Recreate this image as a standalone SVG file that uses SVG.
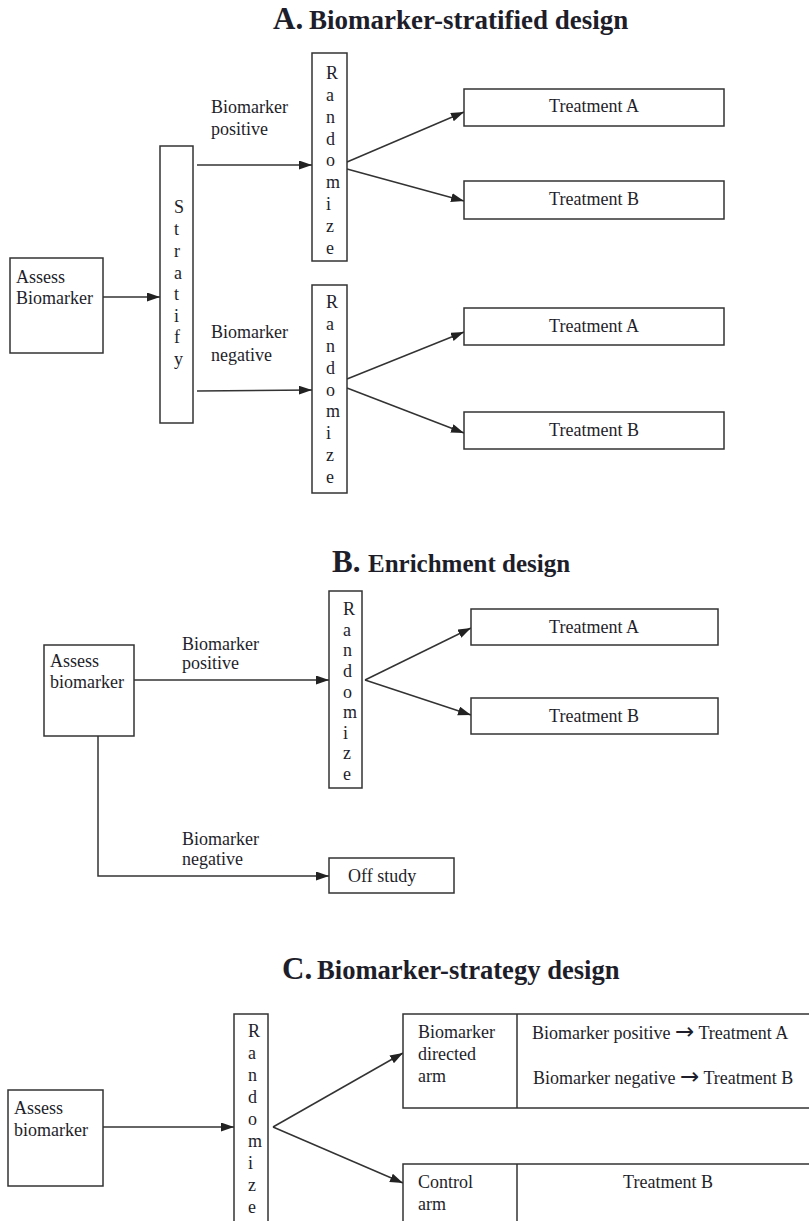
<svg xmlns="http://www.w3.org/2000/svg" width="809" height="1221" viewBox="0 0 809 1221">
<style>
text{font-family:"Liberation Serif","Times New Roman",serif;fill:#1e1e2a;font-size:18px}
.t{font-weight:bold;font-size:27px}
.L{font-weight:bold;font-size:31px}
.box{fill:#fff;stroke:#333;stroke-width:1.5}
.c{text-anchor:middle}
.arw{font-family:"DejaVu Sans",sans-serif;font-size:23px}
#connectors path,#connectors line{fill:none;stroke:#333;stroke-width:1.5}
.ar{marker-end:url(#ah)}
</style>
<defs>
<marker id="ah" markerUnits="userSpaceOnUse" markerWidth="14" markerHeight="10" refX="13" refY="4.5" orient="auto">
<path d="M0,0 L13,4.5 L0,9 z" fill="#222"/>
</marker>
</defs>
<rect width="809" height="1221" fill="#fff"/>

<!-- Titles -->
<g id="titleA"><text x="273" y="29" class="L">A.</text><text x="309" y="29" class="t">Biomarker-stratified design</text></g>
<g id="titleB"><text x="332" y="572" class="L">B.</text><text x="368" y="572" class="t" style="font-size:25px">Enrichment design</text></g>
<g id="titleC"><text x="282" y="979" class="L">C.</text><text x="317" y="979" class="t" style="font-size:26.6px">Biomarker-strategy design</text></g>

<!-- Connectors -->
<g id="connectors">
<line class="ar" x1="103" y1="297" x2="160" y2="297"/>
<line class="ar" x1="197" y1="165" x2="312" y2="165"/>
<line class="ar" x1="197" y1="391" x2="312" y2="390"/>
<line class="ar" x1="347" y1="162" x2="464" y2="112"/>
<line class="ar" x1="347" y1="169" x2="464" y2="201"/>
<line class="ar" x1="347" y1="379" x2="464" y2="332"/>
<line class="ar" x1="347" y1="388" x2="464" y2="433"/>

<line class="ar" x1="134" y1="680" x2="329" y2="680"/>
<path class="ar" d="M98,736 L98,876 L329,876"/>
<line class="ar" x1="365" y1="680" x2="471" y2="628"/>
<line class="ar" x1="365" y1="680" x2="471" y2="715"/>

<line class="ar" x1="103" y1="1127" x2="234" y2="1127"/>
<line class="ar" x1="273" y1="1127" x2="403" y2="1053"/>
<line class="ar" x1="273" y1="1127" x2="403" y2="1183"/>
</g>

<!-- Edge labels -->
<g id="labelsA">
<text x="211" y="113">Biomarker</text><text x="211" y="135">positive</text>
<text x="211" y="338">Biomarker</text><text x="211" y="361">negative</text>
</g>
<g id="labelsB">
<text x="182" y="650">Biomarker</text><text x="182" y="669">positive</text>
<text x="182" y="845">Biomarker</text><text x="182" y="865">negative</text>
</g>

<!-- Section A nodes -->
<g id="A_assess"><rect class="box" x="10" y="258" width="93" height="95"/><text x="16" y="283">Assess</text><text x="16" y="304">Biomarker</text></g>
<g id="A_stratify"><rect class="box" x="160" y="146" width="33" height="277"/>
<text x="174" y="213">S</text><text x="174" y="235">t</text><text x="174" y="257">r</text><text x="174" y="279">a</text><text x="174" y="300">t</text><text x="174" y="322">i</text><text x="174" y="343">f</text><text x="174" y="365">y</text></g>
<g id="A_rand1"><rect class="box" x="312" y="53" width="35" height="208"/>
<text x="326" y="79">R</text><text x="326" y="101">a</text><text x="326" y="123">n</text><text x="326" y="145">d</text><text x="326" y="166">o</text><text x="326" y="188">m</text><text x="326" y="210">i</text><text x="326" y="232">z</text><text x="326" y="254">e</text></g>
<g id="A_rand2"><rect class="box" x="312" y="285" width="35" height="208"/>
<text x="326" y="308">R</text><text x="326" y="330">a</text><text x="326" y="352">n</text><text x="326" y="374">d</text><text x="326" y="396">o</text><text x="326" y="417">m</text><text x="326" y="439">i</text><text x="326" y="461">z</text><text x="326" y="483">e</text></g>
<g id="A_tA1"><rect class="box" x="464" y="89" width="260" height="37"/><text class="c" x="594" y="112">Treatment A</text></g>
<g id="A_tB1"><rect class="box" x="464" y="181" width="260" height="38"/><text class="c" x="594" y="205">Treatment B</text></g>
<g id="A_tA2"><rect class="box" x="464" y="308" width="260" height="37"/><text class="c" x="594" y="332">Treatment A</text></g>
<g id="A_tB2"><rect class="box" x="464" y="412" width="260" height="37"/><text class="c" x="594" y="436">Treatment B</text></g>

<!-- Section B nodes -->
<g id="B_assess"><rect class="box" x="44" y="645" width="90" height="91"/><text x="50" y="667">Assess</text><text x="50" y="688">biomarker</text></g>
<g id="B_rand"><rect class="box" x="329" y="591" width="33" height="197"/>
<text x="343" y="615">R</text><text x="343" y="636">a</text><text x="343" y="656">n</text><text x="343" y="677">d</text><text x="343" y="698">o</text><text x="343" y="718">m</text><text x="343" y="739">i</text><text x="343" y="759">z</text><text x="343" y="780">e</text></g>
<g id="B_tA"><rect class="box" x="471" y="609" width="247" height="36"/><text class="c" x="594" y="633">Treatment A</text></g>
<g id="B_tB"><rect class="box" x="471" y="698" width="247" height="36"/><text class="c" x="594" y="722">Treatment B</text></g>
<g id="B_off"><rect class="box" x="329" y="858" width="125" height="35"/><text x="348" y="882">Off study</text></g>

<!-- Section C nodes -->
<g id="C_assess"><rect class="box" x="8" y="1090" width="95" height="96"/><text x="14" y="1114">Assess</text><text x="14" y="1136">biomarker</text></g>
<g id="C_rand"><rect class="box" x="234" y="1014" width="34" height="220"/>
<text x="248" y="1037">R</text><text x="248" y="1059">a</text><text x="248" y="1081">n</text><text x="248" y="1103">d</text><text x="248" y="1125">o</text><text x="248" y="1147">m</text><text x="248" y="1169">i</text><text x="248" y="1191">z</text><text x="248" y="1213">e</text></g>
<g id="C_directed"><rect class="box" x="403" y="1014" width="415" height="94"/><line x1="517" y1="1014" x2="517" y2="1108" stroke="#333" stroke-width="1.5"/>
<text x="418" y="1038">Biomarker</text><text x="418" y="1060">directed</text><text x="418" y="1082">arm</text>
<text x="532" y="1039">Biomarker positive <tspan class="arw">→</tspan> Treatment A</text><text x="533" y="1084">Biomarker negative <tspan class="arw">→</tspan> Treatment B</text></g>
<g id="C_control"><rect class="box" x="403" y="1164" width="415" height="70"/><line x1="517" y1="1164" x2="517" y2="1234" stroke="#333" stroke-width="1.5"/>
<text x="418" y="1188">Control</text><text x="418" y="1210">arm</text><text class="c" x="668" y="1188">Treatment B</text></g>
</svg>
